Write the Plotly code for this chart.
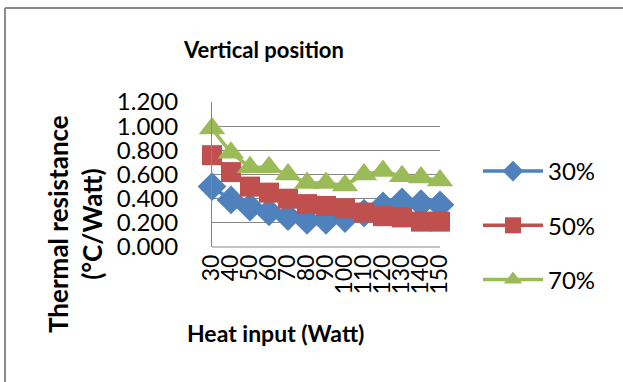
import plotly.graph_objects as go

heat_input = ["30", "40", "50", "60", "70", "80", "90", "100", "110", "120", "130", "140", "150"]
r30 = [0.50, 0.39, 0.33, 0.29, 0.25, 0.22, 0.22, 0.235, 0.28, 0.34, 0.375, 0.36, 0.35]
r50 = [0.76, 0.62, 0.50, 0.45, 0.40, 0.355, 0.34, 0.32, 0.285, 0.255, 0.245, 0.21, 0.21]
r70 = [0.98, 0.78, 0.66, 0.66, 0.60, 0.53, 0.53, 0.51, 0.60, 0.63, 0.585, 0.575, 0.55]
y_ticks = [0.0, 0.2, 0.4, 0.6, 0.8, 1.0, 1.2]
y_tick_labels = ["0.000", "0.200", "0.400", "0.600", "0.800", "1.000", "1.200"]

FONT = "Lato"
L, R, T, B = 212, 440, 102, 247
W, H = 623, 382
PW, PH = R - L, B - T

def px(x):
    return (x - L) / PW

def py(y):
    return (B - y) / PH

series = [
    ("30%", r30, "#4F81BD", "diamond", 22),
    ("50%", r50, "#C0504D", "square", 20),
    ("70%", r70, "#9BBB59", "triangle-up", 23),
]

fig = go.Figure()
for i, (name, vals, col, sym, sz) in enumerate(series):
    fig.add_trace(go.Scatter(
        x=heat_input, y=vals, name=name, mode="lines+markers",
        line=dict(color=col, width=3.5),
        marker=dict(symbol=sym, size=sz, color=col),
        cliponaxis=False, legendgroup=f"g{i}",
    ))

fig.update_layout(
    width=W, height=H,
    margin=dict(l=L, r=W - R, t=T, b=H - B, pad=0),
    paper_bgcolor="white", plot_bgcolor="white",
    font=dict(family=FONT, size=22, color="black"),
    showlegend=True,
    legend=dict(
        x=px(478), y=py(149), xanchor="left", yanchor="top",
        font=dict(family=FONT, size=24, color="black"),
        tracegroupgap=20, itemwidth=60, bgcolor="rgba(0,0,0,0)",
        maxheight=382,
    ),
    title=dict(
        text="<b>Vertical position</b>", x=264 / W, xref="container", xanchor="center",
        y=1 - 50 / H, yref="container", yanchor="middle",
        font=dict(family=FONT, size=22, color="black"),
    ),
)

fig.update_xaxes(
    type="category", range=[0, len(heat_input) - 1],
    tickmode="array", tickvals=heat_input, ticktext=heat_input,
    showgrid=False, zeroline=False, showline=False,
    tickangle=-90, ticks="", ticklabelstandoff=2,
    tickfont=dict(family=FONT, size=23, color="black"),
)
fig.update_yaxes(
    range=[0, 1.2], tickvals=y_ticks, ticktext=y_tick_labels,
    showgrid=True, gridcolor="#868686", gridwidth=1,
    zeroline=False, showline=True, linecolor="#868686", linewidth=1,
    ticks="", ticklabelstandoff=28,
    tickfont=dict(family=FONT, size=24, color="black"),
)

# bottom gridline (value 0) full width
fig.add_shape(type="line", xref="paper", yref="paper", x0=0, x1=1, y0=0, y1=0,
              line=dict(color="#868686", width=1))
# chart frame (left and top borders)
fig.add_shape(type="line", xref="paper", yref="paper", x0=px(5), x1=px(5), y0=py(8), y1=py(382),
              line=dict(color="#8a8a8a", width=2))
fig.add_shape(type="line", xref="paper", yref="paper", x0=px(5), x1=px(623), y0=py(8), y1=py(8),
              line=dict(color="#8a8a8a", width=2))

fig.add_annotation(
    text="<b>Thermal resistance<br>(°C/Watt)</b>", textangle=-90,
    xref="paper", yref="paper", x=px(75), y=py(224),
    xanchor="center", yanchor="middle", showarrow=False,
    font=dict(family=FONT, size=26, color="black"),
)
fig.add_annotation(
    text="<b>Heat input (Watt)</b>",
    xref="paper", yref="paper", x=px(275), y=py(333),
    xanchor="center", yanchor="middle", showarrow=False,
    font=dict(family=FONT, size=23, color="black"),
)

fig.write_html("out.html")
